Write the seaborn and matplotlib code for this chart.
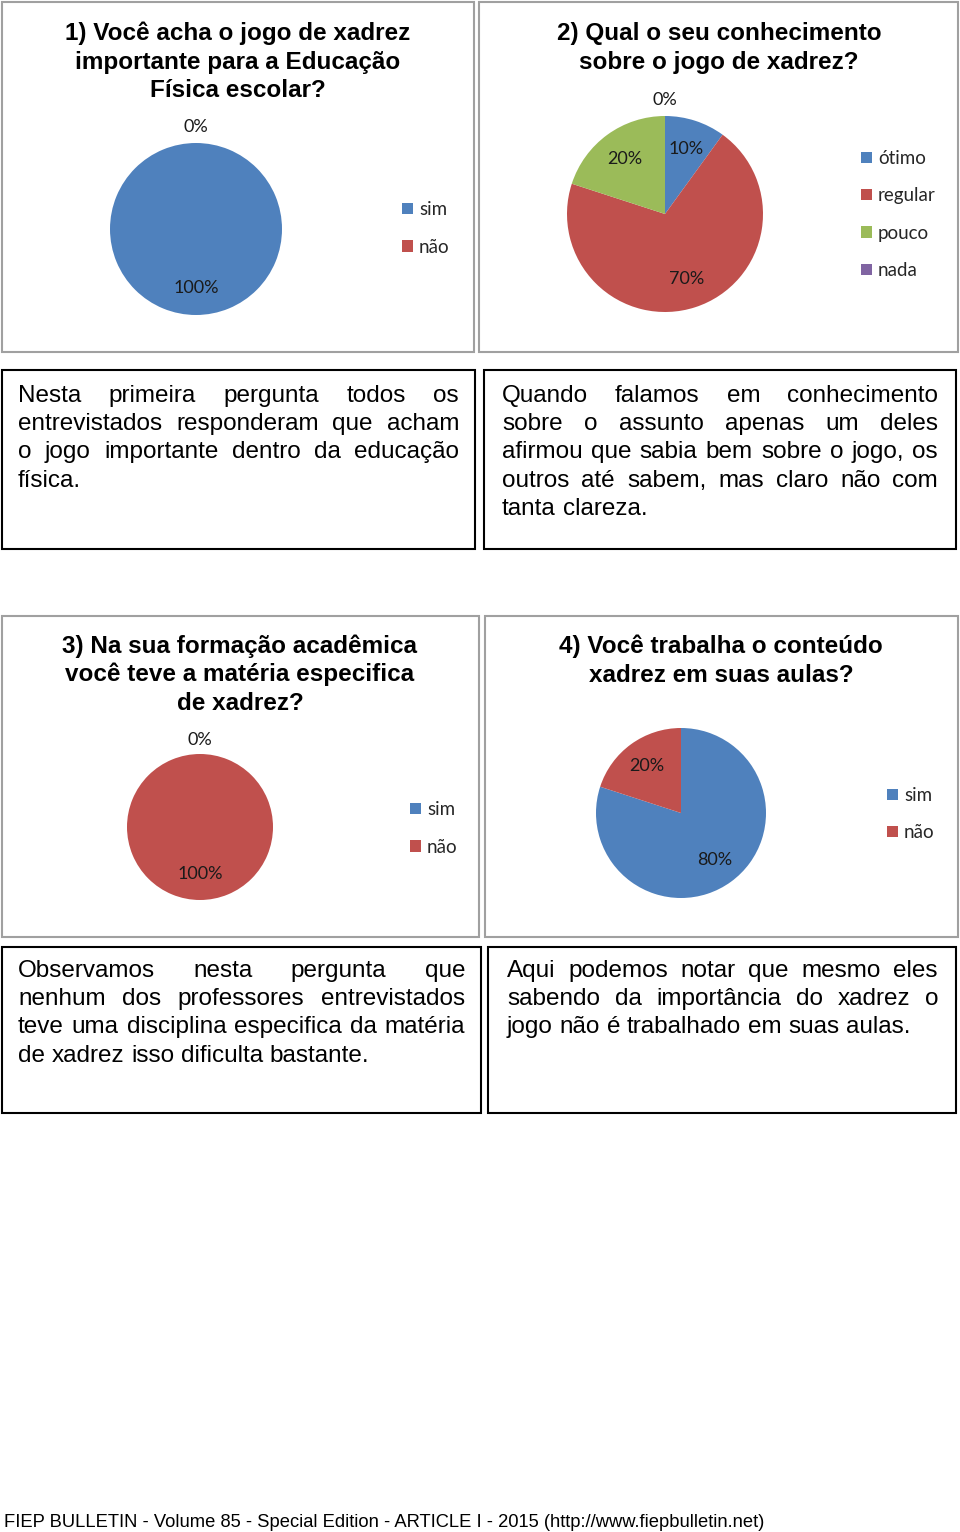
import numpy as np
import matplotlib
matplotlib.use("Agg")
import matplotlib.pyplot as plt
import seaborn as sns
from matplotlib.patches import Rectangle

sns.set_theme(style="white")
plt.rcParams['font.family'] = ['Liberation Sans', 'DejaVu Sans']

# ---------------- data ----------------
q1_title = ["1) Você acha o jogo de xadrez", "importante para a Educação", "Física escolar?"]
q1_labels = ["sim", "não"]
q1_values = [100, 0]

q2_title = ["2) Qual o seu conhecimento", "sobre o jogo de xadrez?"]
q2_labels = ["ótimo", "regular", "pouco", "nada"]
q2_values = [10, 70, 20, 0]

q3_title = ["3) Na sua formação acadêmica", "você teve a matéria especifica", "de xadrez?"]
q3_labels = ["sim", "não"]
q3_values = [0, 100]

q4_title = ["4) Você trabalha o conteúdo", "xadrez em suas aulas?"]
q4_labels = ["sim", "não"]
q4_values = [80, 20]

text1 = ["Nesta primeira pergunta todos os",
         "entrevistados responderam que acham",
         "o jogo importante dentro da educação",
         "física."]
text2 = ["Quando falamos em conhecimento",
         "sobre o assunto apenas um deles",
         "afirmou que sabia bem sobre o jogo, os",
         "outros até sabem, mas claro não com",
         "tanta clareza."]
text3 = ["Observamos nesta pergunta que",
         "nenhum dos professores entrevistados",
         "teve uma disciplina especifica da matéria",
         "de xadrez isso dificulta bastante."]
text4 = ["Aqui podemos notar que mesmo eles",
         "sabendo da importância do xadrez o",
         "jogo não é trabalhado em suas aulas."]
footer = "FIEP BULLETIN - Volume 85 - Special Edition - ARTICLE I - 2015 (http://www.fiepbulletin.net)"

palette = ["#4F81BD", "#C0504D", "#9BBB59", "#8064A2"]

# ---------------- figure ----------------
W, H = 960, 1532
fig = plt.figure(figsize=(W / 100, H / 100), dpi=100)
fig.patch.set_facecolor("white")
renderer = fig.canvas.get_renderer()


def fx(x):
    return x / W


def fy(y):
    return 1 - y / H


def box(x0, y0, x1, y1, color, lw):
    fig.add_artist(Rectangle((fx(x0), fy(y1)), (x1 - x0) / W, (y1 - y0) / H,
                             transform=fig.transFigure, fill=False,
                             edgecolor=color, linewidth=lw))


LABEL_FAMILY = ['Lato', 'DejaVu Sans']
PCT_SIZE = 13
LEG_SIZE = 13.5


def draw_pie(cx, cy, r, values, labels, in_dist, out_dist, lx, ly):
    ax = fig.add_axes([fx(cx - r), fy(cy + r), 2 * r / W, 2 * r / H])
    wedges, _, autotexts = ax.pie(
        values, colors=palette[:len(values)], startangle=90, counterclock=False,
        autopct=lambda p: f"{p:.0f}%", wedgeprops=dict(linewidth=0),
        textprops=dict(color="#1a1a1a", fontfamily=LABEL_FAMILY,
                       fontsize=PCT_SIZE))
    for w, t, v in zip(wedges, autotexts, values):
        theta = np.deg2rad((w.theta1 + w.theta2) / 2)
        d = in_dist if v > 0 else out_dist
        t.set_position((d * np.cos(theta), d * np.sin(theta)))
        t.set_ha("center")
        t.set_va("center")
    ax.set_xlim(-1, 1)
    ax.set_ylim(-1, 1)
    ax.set_aspect("equal")
    ax.axis("off")
    fig.legend(wedges, labels, loc="center left", bbox_to_anchor=(fx(lx), fy(ly)),
               frameon=False, prop=dict(family=LABEL_FAMILY, size=LEG_SIZE),
               handlelength=0.56, handleheight=0.56,
               handletextpad=0.35, labelspacing=1.08, borderpad=0, borderaxespad=0)


def title(lines, cx, y0, step):
    for i, line in enumerate(lines):
        fig.text(fx(cx), fy(y0 + i * step), line, ha="center", va="baseline",
                 fontsize=17.5, fontweight="bold", color="black")


def justified(lines, x0, x1, y0, step, size=17.5):
    probe = fig.text(0, 0, "a a", fontsize=size)
    wa = probe.get_window_extent(renderer).width
    probe.set_text("aa")
    space = wa - probe.get_window_extent(renderer).width
    probe.remove()
    for i, line in enumerate(lines):
        words = line.split()
        yb = fy(y0 + i * step)
        texts = [fig.text(0, yb, w, fontsize=size, ha="left", va="baseline",
                          color="black") for w in words]
        widths = [t.get_window_extent(renderer).width for t in texts]
        if i == len(lines) - 1 or len(words) == 1:
            gap = space
        else:
            gap = (x1 - x0 - sum(widths)) / (len(words) - 1)
        x = x0
        for t, w in zip(texts, widths):
            t.set_x(fx(x))
            x += w + gap


# chart frames
GRAY = "#a0a0a0"
box(2, 2, 474, 352, GRAY, 1.5)
box(479, 2, 958, 352, GRAY, 1.5)
box(2, 616, 479, 937, GRAY, 1.5)
box(485, 616, 958, 937, GRAY, 1.5)

# text frames
box(2, 370, 475, 549, "black", 1.5)
box(484, 370, 956, 549, "black", 1.5)
box(2, 947, 481, 1113, "black", 1.5)
box(488, 947, 956, 1113, "black", 1.5)

# charts
title(q1_title, 238, 40, 28.5)
draw_pie(196, 229, 86, q1_values, q1_labels, 0.69, 1.19, 402, 228.5)

title(q2_title, 719, 40, 28.5)
draw_pie(665, 214, 98, q2_values, q2_labels, 0.70, 1.16, 861, 214.5)

title(q3_title, 240, 653, 28.5)
draw_pie(200, 827, 73, q3_values, q3_labels, 0.64, 1.19, 410, 828.5)

title(q4_title, 721, 653, 28.5)
draw_pie(681, 813, 85, q4_values, q4_labels, 0.68, 1.2, 887, 814)

# texts
justified(text1, 18, 459, 402, 28.2)
justified(text2, 502, 938, 402, 28.2)
justified(text3, 18, 465, 977, 28.2)
justified(text4, 507, 938, 977, 28.2)

fig.text(fx(4), fy(1527), footer, ha="left", va="baseline", fontsize=13.2,
         family=['Liberation Sans Narrow', 'Liberation Sans'], color="black")

fig.savefig("out.png", dpi=100, facecolor="white")
